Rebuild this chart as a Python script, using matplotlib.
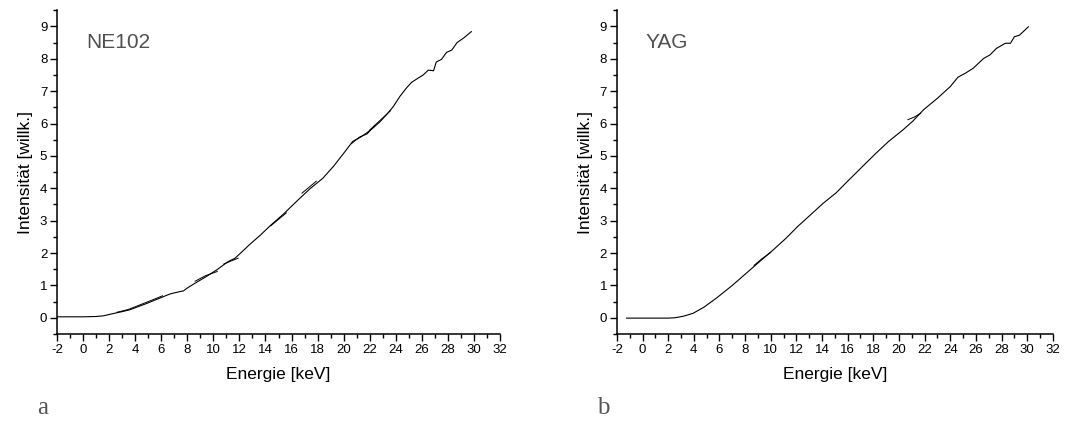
import matplotlib
matplotlib.use("Agg")
import matplotlib.pyplot as plt
from matplotlib.ticker import MultipleLocator

plt.rcParams['font.family'] = ['Liberation Sans', 'DejaVu Sans']
plt.rcParams['axes.unicode_minus'] = False

# NE102 scintillator, main run
ne_e = [-2.0, -1.0, 0.0, 1.0, 1.55, 2.2, 3.0, 3.6, 4.8, 5.9, 6.7, 7.44, 7.7,
        8.0, 8.6, 9.4, 10.26, 10.8, 11.15, 11.66, 12.2, 12.8, 13.6, 14.35,
        15.37, 16.5, 17.4, 18.4, 19.2, 20.0, 20.7, 21.3, 21.8, 22.3, 22.8,
        23.3, 23.8, 24.3, 24.8, 25.2, 25.7, 26.1, 26.5, 26.9, 27.1, 27.5,
        27.9, 28.3, 28.7, 29.2, 29.8]
ne_i = [0.03, 0.03, 0.03, 0.04, 0.06, 0.12, 0.19, 0.25, 0.43, 0.61, 0.74,
        0.81, 0.83, 0.92, 1.07, 1.26, 1.48, 1.64, 1.74, 1.84, 2.04, 2.27,
        2.55, 2.84, 3.2, 3.64, 3.98, 4.31, 4.67, 5.08, 5.45, 5.58, 5.72, 5.88,
        6.06, 6.28, 6.52, 6.83, 7.09, 7.27, 7.4, 7.5, 7.65, 7.63, 7.9, 7.98,
        8.2, 8.27, 8.5, 8.64, 8.84]

# NE102 overlapping short runs
ne_seg_e = [[2.6, 3.5, 4.5, 5.5, 6.1],
            [8.6, 9.4, 10.3],
            [10.8, 11.4, 11.9],
            [14.4, 15.0, 15.6],
            [16.8, 17.4, 17.9],
            [20.6, 21.2, 21.8, 22.4],
            [22.0, 22.8, 23.6]]
ne_seg_i = [[0.17, 0.26, 0.42, 0.58, 0.68],
            [1.13, 1.3, 1.43],
            [1.66, 1.76, 1.84],
            [2.84, 3.04, 3.24],
            [3.85, 4.05, 4.22],
            [5.38, 5.58, 5.68, 5.94],
            [5.8, 6.1, 6.4]]

# YAG crystal, main run
yag_e = [-1.25, 0.0, 1.0, 2.0, 2.5, 3.2, 3.95, 4.8, 5.77, 7.0, 8.1, 9.2,
         10.2, 11.2, 12.1, 13.1, 14.1, 15.1, 16.0, 17.1, 18.2, 19.2, 20.3,
         21.1, 21.9, 23.0, 24.0, 24.6, 25.2, 25.8, 26.6, 27.1, 27.6, 28.3,
         28.7, 29.0, 29.4, 30.1]
yag_i = [-0.01, -0.01, -0.01, -0.01, 0.0, 0.05, 0.14, 0.33, 0.61, 1.0, 1.38,
         1.76, 2.1, 2.46, 2.82, 3.18, 3.54, 3.86, 4.22, 4.65, 5.08, 5.45, 5.8,
         6.08, 6.42, 6.78, 7.14, 7.43, 7.56, 7.71, 8.01, 8.12, 8.32, 8.48,
         8.48, 8.68, 8.73, 8.99]

yag_seg_e = [[8.7, 9.3, 10.0], [20.7, 21.2, 21.7]]
yag_seg_i = [[1.62, 1.82, 2.02], [6.12, 6.2, 6.32]]

panels = [
    ("NE102", "a", ne_e, ne_i, ne_seg_e, ne_seg_i, [0.0532, 0.2067, 0.4137, 0.769]),
    ("YAG", "b", yag_e, yag_i, yag_seg_e, yag_seg_i, [0.576, 0.2067, 0.407, 0.769]),
]

fig = plt.figure(figsize=(10.71, 4.21), dpi=100)

for name, letter, e, i, seg_e, seg_i, rect in panels:
    ax = fig.add_axes(rect)
    ax.plot(e, i, color='black', lw=0.8)
    for se, si in zip(seg_e, seg_i):
        ax.plot(se, si, color='black', lw=0.7)

    ax.set_xlim(-2, 32)
    ax.set_ylim(-0.5, 9.5)
    ax.xaxis.set_major_locator(MultipleLocator(2))
    ax.xaxis.set_minor_locator(MultipleLocator(1))
    ax.yaxis.set_major_locator(MultipleLocator(1))
    ax.yaxis.set_minor_locator(MultipleLocator(0.5))
    ax.tick_params(which='major', direction='out', length=5, width=1,
                   labelsize=9.5, pad=2)
    ax.tick_params(which='minor', direction='out', length=3, width=1)
    for side in ('top', 'right'):
        ax.spines[side].set_visible(False)
    for side in ('left', 'bottom'):
        ax.spines[side].set_linewidth(1.1)

    ax.set_xlabel("Energie [keV]", fontsize=12.5, labelpad=8)
    ax.set_ylabel("Intensität [willk.]", fontsize=12.5, labelpad=5)
    ax.text(0.065, 0.9, name, transform=ax.transAxes, fontsize=15,
            color='#505050', va='center')
    fig.text(rect[0] - 0.019, 0.03, letter, family='Liberation Serif',
             fontsize=18, color='#555555', va='center')

fig.savefig("out.png", dpi=100)
